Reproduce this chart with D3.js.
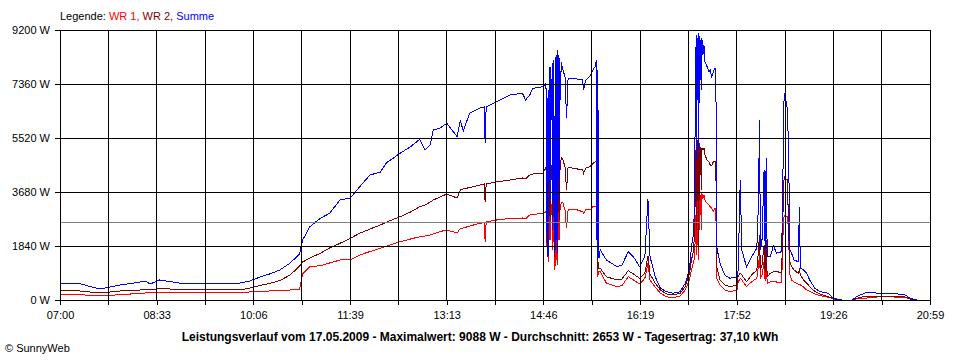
<!DOCTYPE html>
<html>
<head>
<meta charset="utf-8">
<script src="https://cdn.jsdelivr.net/npm/d3@7"></script>
<style>
  html, body { margin: 0; padding: 0; background: #fff; }
  svg { display: block; font-family: "Liberation Sans", Arial, sans-serif; }
</style>
</head>
<body>
<svg id="chart" width="960" height="360"></svg>
<script>
// ── Data (SunnyWeb, 17.05.2009) ───────────────────────────────────────────

const times = [
  // morning → 14:46
  "07:00","07:10","07:19","07:29","07:39","07:48","07:58","08:08",
  "08:17","08:22","08:27","08:36","08:46","08:56","09:15","09:34",
  "09:54","10:03","10:13","10:22","10:32","10:42","10:51","10:54",
  "11:01","11:11","11:20","11:30","11:40","11:49","11:59","12:09",
  "12:15","12:28","12:38","12:47","12:52","12:57","13:00","13:06",
  "13:13","13:23","13:26","13:29","13:35","13:45","13:49","13:50",
  "13:51","14:01","14:14","14:26","14:29","14:33","14:36","14:46",
  // clouds 14:48 – 15:03
  "14:48:40","14:49:20","14:50:00","14:50:40","14:51:20","14:52:00","14:52:40","14:53:20",
  "14:54:00","14:54:40","14:55:20","14:56:00","14:56:40","14:57:20","14:58:00","14:58:40",
  "14:59:20","15:00:00","15:00:40","15:01:20","15:02:00","15:02:40","15:03:20",
  // 15:05 – 15:41
  "15:05","15:07","15:08:30","15:10","15:15","15:19","15:24","15:25",
  "15:27","15:31","15:34","15:36","15:37","15:37:30","15:37:45","15:38",
  "15:38:15","15:38:30","15:38:45","15:39","15:39:15","15:39:30","15:39:45","15:41",
  // 15:47 – 17:11
  "15:47","15:57","16:02","16:08","16:13","16:19","16:24","16:27",
  "16:29","16:34","16:39","16:45","16:51","16:58","17:03","17:07",
  "17:09","17:11",
  // peak 17:12 – 17:33
  "17:12","17:12:30","17:13","17:13:30","17:14","17:14:30","17:15","17:15:30",
  "17:16","17:16:30","17:17","17:17:30","17:18","17:18:30","17:19","17:20",
  "17:21","17:22","17:24","17:26","17:27","17:28:30","17:30","17:31:30",
  "17:32:30","17:33:15",
  // 17:36 – 18:36
  "17:36:30","17:41","17:46","17:53","17:54","17:56","17:57:30","18:02",
  "18:07","18:12","18:13:40","18:14:30","18:15:30","18:17","18:19","18:20",
  "18:21","18:22","18:25","18:28","18:31","18:36",
  // 18:37 – evening
  "18:37","18:38:20","18:40","18:41:30","18:42:30","18:43:30","18:44","18:45:30",
  "18:48","18:52","18:53","18:54","18:57","19:00","19:03","19:08",
  "19:13","19:21","19:26","19:30","19:34","19:44","19:48","19:58",
  "20:11","20:24","20:35","20:40","20:46"
];

// WR 2 (dark red)
const wr2 = [
  317,317,307,273,249,273,307,324,
  341,358,358,385,375,341,341,341,
  341,409,494,562,664,852,1159,1295,
  1431,1591,1772,1932,2102,2273,2419,2556,
  2658,2838,2998,3179,3237,3339,3407,3499,
  3612,3476,3748,3782,3833,3919,3953,3349,
  3953,4021,4089,4157,4123,4259,4293,4317,

  4542,2385,1475,4430,1704,4668,2726,4702,
  4089,4770,2385,4839,3407,1475,4873,2044,
  4941,1704,4907,2726,4907,4430,4873,

  4770,4542,3748,4532,4487,4464,4430,4317,
  4498,4542,4658,4712,4736,4736,3407,4600,
  2044,4430,1022,1295,1090,1193,1080,1080,

  794,681,716,998,886,739,910,1499,
  886,579,341,204,170,228,453,910,
  1363,1704,

  2385,3407,5111,2385,5339,3407,5452,1704,
  5384,3407,5350,4259,5224,3748,5179,5111,
  5179,4941,4770,4702,4600,4566,4712,4712,
  4702,1135,

  681,511,453,511,818,910,852,624,
  852,1022,1704,2215,1022,1193,1874,954,
  2044,794,910,964,964,937,

  2726,4201,4089,4089,2613,1475,1295,1135,
  1022,910,1022,852,681,579,453,290,
  204,112,58,0,0,0,58,136,
  136,119,102,34,0
];

// WR 1 (red)
const wr1 = [
  204,204,187,153,136,153,187,204,
  221,239,239,249,239,239,239,239,
  256,273,290,307,324,341,358,886,
  1135,1169,1261,1363,1363,1533,1653,1762,
  1840,1987,2078,2157,2181,2215,2249,2327,
  2385,2283,2443,2453,2521,2613,2641,1987,
  2658,2726,2777,2794,2760,2896,2913,2954,

  3009,1874,1704,2998,1295,3237,2044,3305,
  2896,3407,1704,3373,2556,1022,3339,1363,
  3349,1193,3349,2044,3349,3067,3339,

  3305,3067,2443,3067,3067,3067,3009,2964,
  3067,3067,3179,3179,3203,3203,2385,3067,
  1533,2998,794,954,886,954,964,964,

  569,453,494,794,681,545,739,1251,
  681,443,228,112,78,136,341,681,
  1022,1295,

  1431,2044,2896,1533,3578,1874,3578,1363,
  3510,2385,3636,2896,3578,2385,3636,3476,
  3578,3407,3295,3237,3179,3135,3009,3125,
  3125,739,

  511,341,283,341,613,739,681,453,
  624,739,1193,1533,750,852,1295,647,
  1363,569,624,624,613,613,

  2044,2896,2838,2838,2385,1135,852,681,
  613,545,545,511,443,341,290,204,
  153,92,41,0,0,0,34,68,
  112,102,92,34,0
];

// Summe (blue)
const summe = [
  545,562,562,460,375,443,511,562,
  613,647,545,681,630,569,569,569,
  579,647,784,886,1022,1261,1567,2044,
  2498,2784,2954,3407,3476,3861,4259,4361,
  4678,4999,5224,5476,5111,5281,5793,5851,
  6021,5564,6099,5769,6362,6542,6576,5360,
  6586,6757,6985,7043,6815,6985,7213,7268,

  7384,3179,1475,7156,1499,7950,3407,7950,
  6133,8063,2385,8178,5111,1601,8290,2044,
  8519,1601,8348,3407,8236,6815,8110,

  7837,7609,6191,7564,7554,7530,7496,7156,
  7496,7633,7837,7950,8110,8178,2044,7837,
  1704,7496,1363,6474,1533,5111,1431,1704,

  1363,1135,1193,1646,1475,1135,1475,3441,
  1475,794,399,283,228,283,569,1022,
  1816,2273,

  3407,6133,8631,4770,9030,6815,8927,5111,
  9088,6713,8996,7496,8859,7156,8927,8348,
  8689,8110,7950,7769,7837,7609,7769,7895,
  7837,1816,

  1251,852,739,794,1022,4089,1704,1135,
  1475,1762,3407,6133,1704,2044,4430,1704,
  4839,1475,1475,1840,1601,1646,

  3861,7064,6815,6474,5224,2954,1704,1591,
  1363,1305,3179,1090,1022,910,681,399,
  283,228,58,24,0,0,112,262,
  228,228,170,58,0
];

const average = 2653;   // Durchschnitt, grey line
const yTicks  = [0, 1840, 3680, 5520, 7360, 9200];
const xLabels = ["07:00","08:33","10:06","11:39","13:13","14:46","16:19","17:52","19:26","20:59"];
const dayStart = "07:00", dayEnd = "20:59";

const title = "Leistungsverlauf vom 17.05.2009 - Maximalwert: 9088 W - Durchschnitt: 2653 W - Tagesertrag: 37,10 kWh";

// ── Setup ──────────────────────────────────────────────────────────────────

const parseHMS = d3.timeParse("%H:%M:%S");
const parseHM  = d3.timeParse("%H:%M");
const parseT   = s => (s.length > 5 ? parseHMS(s) : parseHM(s));

const plotL = 60, plotR = 930, plotT = 30, plotB = 300;

const x = d3.scaleTime().domain([parseT(dayStart), parseT(dayEnd)]).range([plotL, plotR]);
const y = d3.scaleLinear().domain([0, 9200]).range([plotB, plotT]);

// 18 equal grid intervals, label on every second one
const t0 = +parseT(dayStart), t1 = +parseT(dayEnd);
const gridTimes = d3.range(19).map(i => new Date(t0 + i * (t1 - t0) / 18));

const svg = d3.select('#chart');

// ── Series ─────────────────────────────────────────────────────────────────

const series = [
  { values: wr1,   color: '#ff0000' },
  { values: wr2,   color: '#800000' },
  { values: summe, color: '#0000ff' }
];

const line = d3.line()
  .x((d, i) => x(parseT(times[i])))
  .y(d => y(d));

svg.append('g').attr('class', 'series')
  .selectAll('path')
  .data(series)
  .join('path')
  .attr('fill', 'none')
  .attr('stroke', d => d.color)
  .attr('stroke-width', 1)
  .attr('shape-rendering', 'crispEdges')
  .attr('d', d => line(d.values));

// ── Grid (drawn over the data, like the original) ─────────────────────────

const grid = svg.append('g').attr('shape-rendering', 'crispEdges');

grid.append('line')
  .attr('x1', plotL).attr('x2', plotR)
  .attr('y1', y(average)).attr('y2', y(average))
  .attr('stroke', '#808080');

grid.selectAll('line.h')
  .data(yTicks)
  .join('line').attr('class', 'h')
  .attr('x1', plotL).attr('x2', plotR)
  .attr('y1', d => y(d)).attr('y2', d => y(d))
  .attr('stroke', '#000');

grid.selectAll('line.v')
  .data(gridTimes)
  .join('line').attr('class', 'v')
  .attr('x1', d => x(d)).attr('x2', d => x(d))
  .attr('y1', plotT).attr('y2', plotB)
  .attr('stroke', '#000');

// ── Axes ───────────────────────────────────────────────────────────────────

const yAxis = svg.append('g')
  .attr('transform', `translate(${plotL},0)`)
  .call(d3.axisLeft(y).tickValues(yTicks).tickSize(5).tickSizeOuter(0).tickPadding(5)
    .tickFormat(d => d + ' W'));

const xAxis = svg.append('g')
  .attr('transform', `translate(0,${plotB})`)
  .call(d3.axisBottom(x).tickValues(gridTimes).tickSize(5).tickSizeOuter(0).tickPadding(6)
    .tickFormat((d, i) => (i % 2 === 0 ? xLabels[i / 2] : '')));

for (const ax of [yAxis, xAxis]) {
  ax.attr('font-family', null).attr('font-size', null).attr('shape-rendering', 'crispEdges');
  ax.selectAll('text').attr('fill', '#000').style('font-size', '11px');
  ax.selectAll('line, path').attr('stroke', '#000');
}

// ── Texts ──────────────────────────────────────────────────────────────────

const legend = svg.append('text')
  .attr('x', 60).attr('y', 20)
  .style('font-size', '11px');
legend.append('tspan').attr('fill', '#000').text('Legende: ');
legend.append('tspan').attr('fill', '#ff0000').text('WR 1,');
legend.append('tspan').attr('fill', '#800000').text(' WR 2,');
legend.append('tspan').attr('fill', '#0000ff').text(' Summe');

svg.append('text')
  .attr('x', 480).attr('y', 341)
  .attr('text-anchor', 'middle')
  .style('font-size', '12px')
  .style('font-weight', 'bold')
  .text(title);

svg.append('text')
  .attr('x', 5).attr('y', 352)
  .style('font-size', '11px')
  .text('\u00A9 SunnyWeb');
</script>
</body>
</html>
